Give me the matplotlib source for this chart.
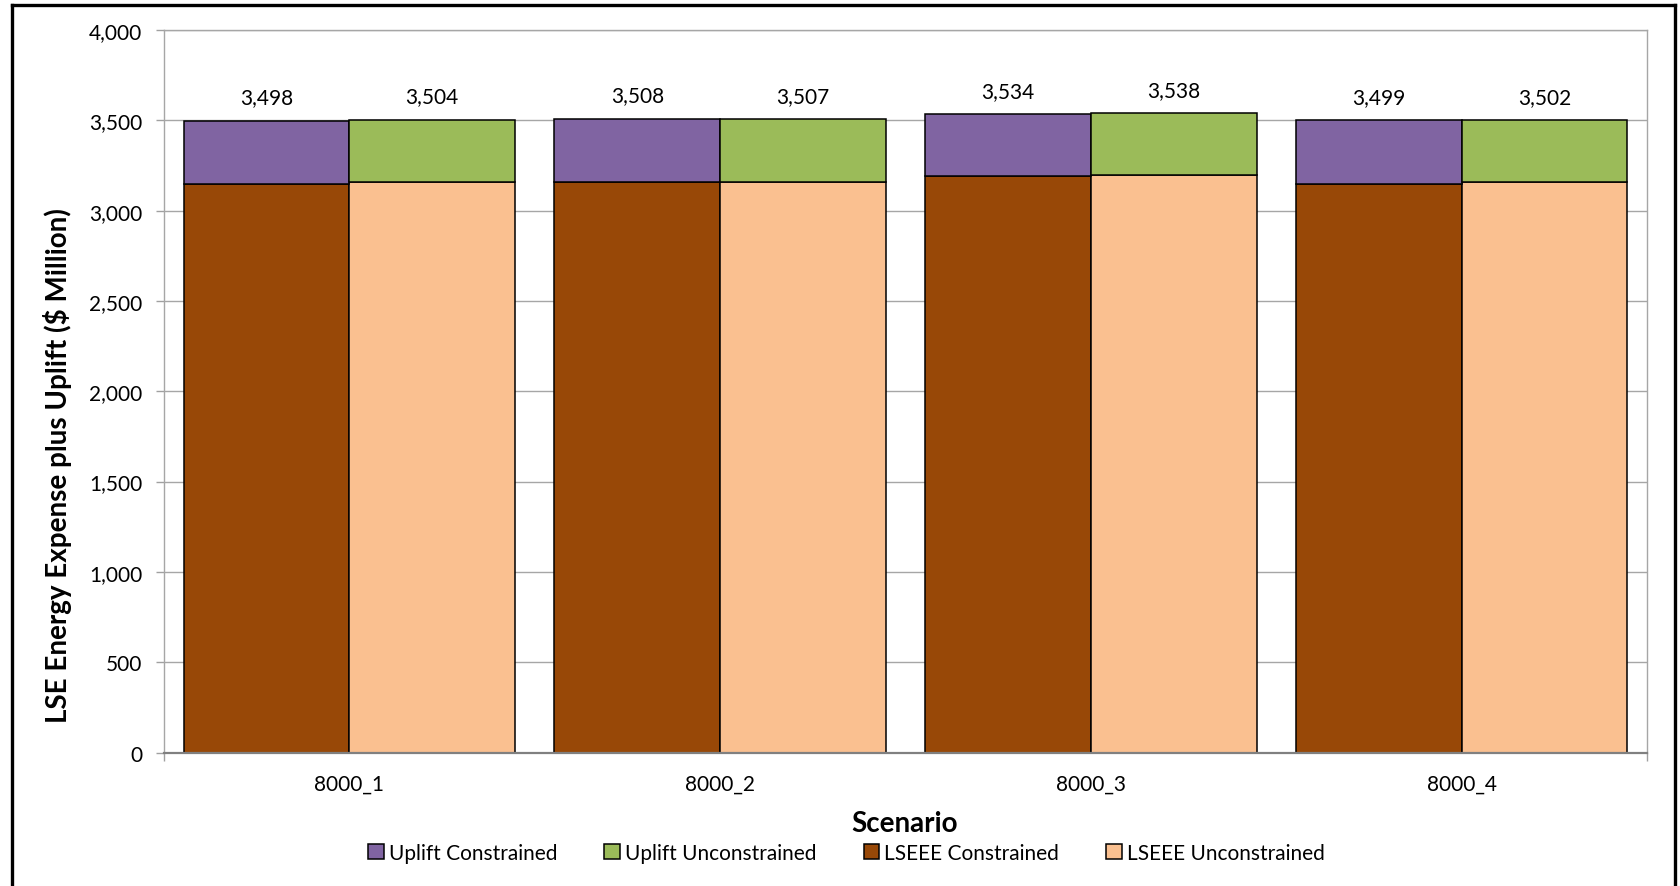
import matplotlib
matplotlib.use("Agg")
import matplotlib.pyplot as plt
from matplotlib.lines import Line2D
from matplotlib.ticker import FuncFormatter, MultipleLocator
import numpy as np

plt.rcParams['font.family'] = ['Lato', 'DejaVu Sans']

# Scenario data ($ Million)
scenarios = ["8000_1", "8000_2", "8000_3", "8000_4"]
lseee_constrained = [3150, 3160, 3190, 3150]
lseee_unconstrained = [3160, 3160, 3200, 3160]
uplift_constrained = [348, 348, 344, 349]
uplift_unconstrained = [344, 347, 338, 342]

series_labels = ["Uplift Constrained", "Uplift Unconstrained",
                 "LSEEE Constrained", "LSEEE Unconstrained"]
colors = {"uc": "#8064A2", "uu": "#9BBB59", "lc": "#984807", "lu": "#FAC090"}

W, H = 1681, 887
fig = plt.figure(figsize=(W / 100, H / 100), dpi=100)
ax = fig.add_axes([164 / W, 1 - 753.5 / H, (1647 - 164) / W, (753.5 - 31) / H])

x = np.arange(len(scenarios))
bw = 0.447
edge = dict(edgecolor="black", linewidth=1.1)

b_lc = ax.bar(x - bw / 2, lseee_constrained, bw, color=colors["lc"], zorder=3, **edge)
b_lu = ax.bar(x + bw / 2, lseee_unconstrained, bw, color=colors["lu"], zorder=3, **edge)
b_uc = ax.bar(x - bw / 2, uplift_constrained, bw, bottom=lseee_constrained,
              color=colors["uc"], zorder=3, **edge)
b_uu = ax.bar(x + bw / 2, uplift_unconstrained, bw, bottom=lseee_unconstrained,
              color=colors["uu"], zorder=3, **edge)

# Totals above each stacked bar
tot_c = np.array(lseee_constrained) + np.array(uplift_constrained)
tot_u = np.array(lseee_unconstrained) + np.array(uplift_unconstrained)
for xs, totals in ((x - bw / 2, tot_c), (x + bw / 2, tot_u)):
    for xi, t in zip(xs, totals):
        ax.annotate(f"{t:,.0f}", (xi, t), xytext=(0, 16.8), textcoords="offset points",
                    ha="center", va="center", fontsize=15, color="black")

ax.set_xlim(-0.5, 3.5)
ax.set_ylim(0, 4000)
ax.yaxis.set_major_locator(MultipleLocator(500))
ax.yaxis.set_major_formatter(FuncFormatter(lambda v, p: f"{v:,.0f}"))
ax.grid(axis="y", color="#A6A6A6", linewidth=1.0, zorder=0)
ax.set_axisbelow(True)

ax.set_xticks(x)
ax.set_xticklabels(scenarios)
ax.set_xticks([-0.5, 3.5], minor=True)
ax.tick_params(axis="x", which="major", length=0, pad=15.5, labelsize=15)
ax.tick_params(axis="x", which="minor", length=5.8, width=1.0, color="#A0A0A0", direction="out")
ax.tick_params(axis="y", length=5.8, width=1.0, color="#A0A0A0", pad=10, labelsize=15,
               direction="out")

for side in ("left", "right", "top"):
    ax.spines[side].set_color("#A6A6A6")
    ax.spines[side].set_linewidth(1.0)
ax.spines["bottom"].set_color("#808080")
ax.spines["bottom"].set_linewidth(1.6)
ax.spines["bottom"].set_zorder(5)

fig.text(58 / W, 1 - 466 / H, "LSE Energy Expense plus Uplift ($ Million)",
         rotation=90, ha="center", va="center", fontsize=20, fontweight="bold")
fig.text(905 / W, 1 - 824 / H, "Scenario", ha="center", va="center",
         fontsize=20, fontweight="bold")

fig.legend([b_uc, b_uu, b_lc, b_lu], series_labels, loc="center",
           bbox_to_anchor=(846.5 / W, 1 - 854 / H), ncol=4, frameon=False,
           fontsize=15, handlelength=0.75, handleheight=0.75, handletextpad=0.25,
           columnspacing=2.25, borderaxespad=0, borderpad=0)

# Outer frame (left, top, right)
fy_top = 1 - 6 / H
for xs_, ys_ in (([12 / W, 12 / W], [0, fy_top]),
                 ([12 / W, 1675 / W], [fy_top, fy_top]),
                 ([1675 / W, 1675 / W], [fy_top, 0])):
    fig.add_artist(Line2D(xs_, ys_, color="black", linewidth=2.4,
                          transform=fig.transFigure, solid_capstyle="projecting"))

fig.savefig("out.png", dpi=100)
